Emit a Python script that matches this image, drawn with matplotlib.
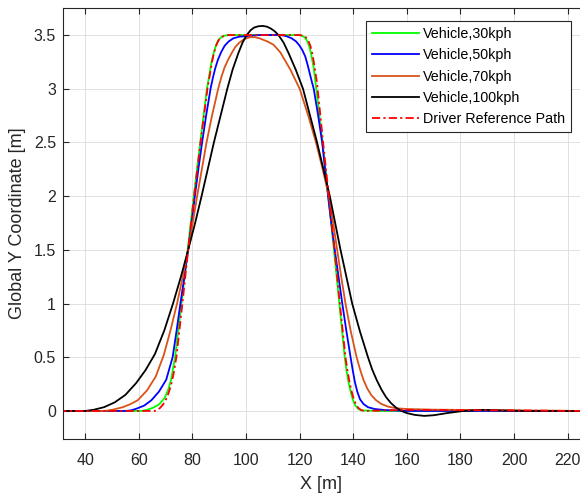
import numpy as np
import matplotlib
matplotlib.use('Agg')
import matplotlib.pyplot as plt
from matplotlib.ticker import FuncFormatter

plt.rcParams['font.family'] = ['Liberation Sans', 'DejaVu Sans']

#dane
x_30 = [30, 61, 63, 65.3, 67.5, 69.6, 71, 72.1, 73.5, 75.9, 78.2, 80.5, 82.9, 85.4, 86.3, 87.1, 87.9,
        88.7, 89.6, 90.7, 92, 93.5, 119.5, 120.7, 121.8, 122.7, 123.5, 124.3, 125.2, 126.2, 128.5,
        130.7, 132.8, 134.8, 136.8, 137.5, 138.3, 139.1, 139.9, 140.8, 141.8, 143, 150, 225]
y_30 = [0, 0, 0.01, 0.03, 0.06, 0.12, 0.2, 0.3, 0.5, 1.0, 1.5, 2.0, 2.5, 3.0, 3.13, 3.25, 3.33,
        3.4, 3.45, 3.48, 3.495, 3.5, 3.5, 3.495, 3.48, 3.45, 3.4, 3.32, 3.2, 3.0, 2.5,
        2.0, 1.5, 1.0, 0.5, 0.37, 0.26, 0.17, 0.1, 0.05, 0.02, 0.005, 0, 0]

x_50 = [30, 55, 57, 59, 62, 64.7, 67.5, 70.2, 72.6, 74.1, 75.5, 77, 78.4, 79.7, 80.9, 82.2, 83.6,
        85.1, 86.75, 87.6, 88.5, 89.5, 90.7, 92, 93.5, 95.25, 97.5, 100, 105, 113, 115, 117,
        118.7, 120, 121, 122.1, 123, 123.8, 124.5, 125.25, 126.9, 128.4, 129.5, 130.6, 131.8,
        133.1, 134.5, 135.9, 137.4, 139, 139.8, 140.6, 141.5, 142.5, 143.8, 145.5, 148, 152,
        160, 225]
y_50 = [0, 0, 0.005, 0.02, 0.05, 0.1, 0.18, 0.29, 0.5, 0.75, 1.0, 1.25, 1.5, 1.75, 2.0, 2.25, 2.5,
        2.75, 3.0, 3.1, 3.19, 3.27, 3.34, 3.4, 3.44, 3.47, 3.485, 3.49, 3.5, 3.5, 3.49, 3.47,
        3.44, 3.4, 3.36, 3.3, 3.22, 3.14, 3.07, 3.0, 2.75, 2.5, 2.25, 2.0, 1.75,
        1.5, 1.25, 1.0, 0.75, 0.5, 0.38, 0.27, 0.18, 0.11, 0.065, 0.035, 0.018, 0.008,
        0, 0]

x_70 = [30, 47, 50, 54, 57, 59.6, 63, 66.3, 69.3, 71.8, 74.25, 76.4, 78.4, 80.1, 81.75, 83.5, 85.25,
        87.3, 89.6, 90.8, 92, 93.3, 94.6, 96, 97.5, 99.5, 101.5, 103.3, 105, 108, 110.25, 112.75,
        116.5, 120, 123.2, 126.1, 128.6, 130.9, 132.5, 134, 135.5, 137.1, 139, 141.25, 142.5,
        143.8, 145.2, 146.8, 148.5, 150.5, 153, 156, 160, 170, 200, 225]
y_70 = [0, 0, 0.01, 0.035, 0.065, 0.1, 0.19, 0.32, 0.52, 0.75, 1.0, 1.25, 1.5, 1.75, 2.0, 2.25, 2.5,
        2.75, 3.0, 3.11, 3.2, 3.27, 3.33, 3.39, 3.43, 3.465, 3.48, 3.48, 3.47, 3.44, 3.41, 3.34,
        3.18, 3.0, 2.75, 2.5, 2.25, 2.0, 1.75, 1.5, 1.25, 1.0, 0.75, 0.5, 0.39,
        0.29, 0.21, 0.145, 0.1, 0.065, 0.04, 0.025, 0.018, 0.012, 0.005, 0]

x_100 = [30, 40, 43, 47, 51, 55, 59, 62.5, 66, 69.5, 72.75, 75.7, 78.4, 81, 83.4, 85.7, 88, 90.5,
         93, 95, 97.1, 98.7, 100.25, 101.7, 103, 104.6, 106.25, 107.8, 109.3, 110.7, 112.1, 114,
         115.9, 118.5, 121.25, 126.5, 131.25, 135.25, 139.6, 142.5, 145.5, 147, 148.7, 150.5,
         152.2, 154, 156, 158, 160, 163, 166.5, 170, 175, 181, 188, 195, 205, 225]
y_100 = [0, 0, 0.01, 0.035, 0.08, 0.15, 0.26, 0.38, 0.53, 0.75, 1.0, 1.25, 1.5, 1.75, 2.0, 2.25, 2.5,
         2.75, 3.0, 3.18, 3.33, 3.43, 3.5, 3.545, 3.57, 3.582, 3.585, 3.578, 3.56, 3.535, 3.5, 3.43,
         3.33, 3.18, 3.0, 2.5, 2.0, 1.5, 1.0, 0.74, 0.5, 0.39, 0.29, 0.2,
         0.13, 0.075, 0.03, 0.0, -0.02, -0.037, -0.046, -0.04, -0.02, 0, 0.01, 0.005, 0, 0]

x_ref = [30, 66, 67, 68, 69, 70, 71, 72, 73, 74, 76.25, 78.4, 80.6, 83, 85.6, 86.5, 87.3, 88, 88.8,
         89.7, 90.8, 92, 93.5, 120, 121.2, 122.3, 123.2, 124, 124.8, 125.6, 126.5, 128.75, 130.9,
         133, 135, 137.1, 137.8, 138.6, 139.4, 140.2, 141, 142, 143, 144, 160, 200, 225]
y_ref = [0, 0, 0.01, 0.03, 0.06, 0.1, 0.16, 0.24, 0.35, 0.5, 1.0, 1.5, 2.0, 2.5, 3.0, 3.13, 3.25, 3.33, 3.4,
         3.45, 3.48, 3.495, 3.5, 3.5, 3.495, 3.48, 3.45, 3.4, 3.32, 3.2, 3.05, 2.5, 2.0,
         1.5, 1.0, 0.5, 0.38, 0.27, 0.18, 0.11, 0.06, 0.025, 0.008, 0, 0.01, 0.005, 0]

labels = ['Vehicle,30kph', 'Vehicle,50kph', 'Vehicle,70kph', 'Vehicle,100kph', 'Driver Reference Path']

#wykres
fig = plt.figure(figsize=(5.8, 4.97), dpi=100)
ax = fig.add_axes([63/580, 1 - 439.3/497, 1 - 63/580, (439.3 - 8)/497])

ax.plot(x_30, y_30, color=(0, 1, 0), lw=1.3, label=labels[0])
ax.plot(x_50, y_50, color=(0, 0, 1), lw=1.3, label=labels[1])
ax.plot(x_70, y_70, color=(0.85, 0.325, 0.098), lw=1.3, label=labels[2])
ax.plot(x_100, y_100, color='k', lw=1.3, label=labels[3])
ax.plot(x_ref, y_ref, color=(1, 0, 0), lw=1.3, dashes=(4.5, 1.8, 1.2, 1.8), label=labels[4])

ax.set_xlim(31.7, 224.6)
ax.set_ylim(-0.264, 3.752)
ax.set_xticks(np.arange(40, 221, 20))
ax.set_yticks(np.arange(0, 3.51, 0.5))
ax.yaxis.set_major_formatter(FuncFormatter(lambda v, p: '%g' % v))

ax.grid(True, color='#dcdcdc', lw=0.6)
ax.set_axisbelow(True)
for s in ['left', 'bottom', 'top']:
    ax.spines[s].set_color('#262626')
    ax.spines[s].set_linewidth(0.8)
ax.spines['right'].set_visible(False)
ax.tick_params(direction='in', top=True, right=False, length=4, width=0.8,
               colors='#262626', labelsize=11.5)
ax.tick_params(axis='x', pad=10)
ax.tick_params(axis='y', pad=5)

ax.set_xlabel('X [m]', fontsize=13, color='#262626')
ax.set_ylabel('Global Y Coordinate [m]', fontsize=13, color='#262626')
ax.xaxis.set_label_coords(0.5, -0.086)
ax.yaxis.set_label_coords(-0.072, 0.5)

leg = ax.legend(loc='upper right', bbox_to_anchor=(571/580, 1 - 21/497), bbox_transform=fig.transFigure,
                borderaxespad=0, fontsize=10.3, handlelength=3.3, handletextpad=0.3, labelspacing=0.52,
                borderpad=0.4, fancybox=False, framealpha=1, edgecolor='#262626')
leg.get_frame().set_linewidth(0.8)

plt.savefig('out.png', dpi=100)
